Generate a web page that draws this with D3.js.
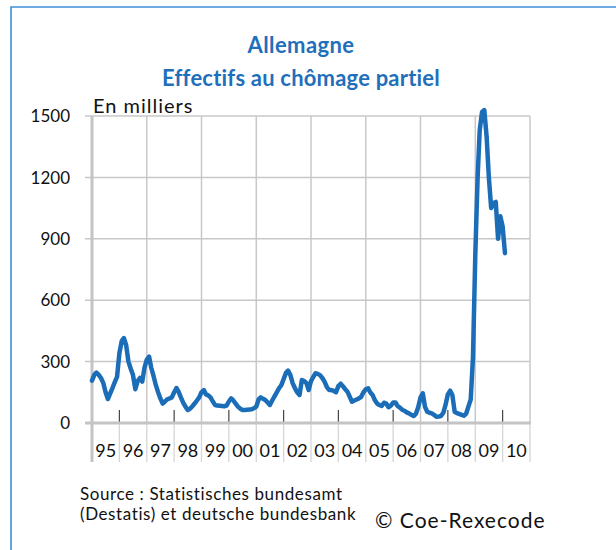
<!DOCTYPE html>
<html>
<head>
<meta charset="utf-8">
<script src="https://cdn.jsdelivr.net/npm/d3@7"></script>
<style>
  body { margin: 0; background: #fff; }
  svg { display: block; font-family: Lato, "Open Sans", sans-serif; }
</style>
</head>
<body>
<div id="chart"></div>
<script>
// effectifs au chomage partiel, en milliers, mensuel depuis janvier 1995
const startMonth = new Date(1995, 0, 1);
const chomage = [
  207, 235, 246, 235, 220, 195, 150, 117, 145, 171, 200, 225,   // 1995
  340, 400, 415, 380, 300, 265, 234, 165, 205, 220, 202, 270,   // 1996
  310, 324, 270, 230, 186, 150, 120, 95, 105, 116, 120, 125,    // 1997
  150, 171, 153, 125, 100, 80, 64, 70, 82, 95, 110, 125,        // 1998
  150, 161, 140, 135, 125, 105, 88, 85, 84, 83, 82, 85,         // 1999
  105, 120, 110, 95, 80, 70, 64, 64, 65, 66, 67, 72,            // 2000
  80, 115, 125, 118, 112, 100, 88, 110, 130, 150, 170, 185,     // 2001
  215, 245, 256, 234, 195, 170, 150, 137, 210, 205, 195, 161,   // 2002
  205, 225, 243, 240, 234, 220, 202, 175, 161, 161, 157, 150,   // 2003
  180, 192, 180, 165, 153, 128, 104, 110, 115, 120, 128, 150,   // 2004
  165, 170, 150, 137, 112, 95, 88, 83, 99, 95, 77, 85,          // 2005
  100, 100, 83, 75, 65, 60, 52, 47, 40, 34, 45, 77,             // 2006
  125, 145, 80, 55, 50, 47, 40, 31, 32, 34, 50, 88,             // 2007
  140, 158, 137, 55, 48, 44, 40, 36, 45, 80, 115, 320,          // 2008
  820, 1200, 1430, 1520, 1529, 1400, 1200, 1050, 1075, 1080, 900, 1010, // 2009
  960, 830                                                      // 2010
];
const yTicks = [0, 300, 600, 900, 1200, 1500];
const yearLabels = ["95", "96", "97", "98", "99", "00", "01", "02",
                    "03", "04", "05", "06", "07", "08", "09", "10"];

const blue = "#1c6db8";
const grid = "#c8c8c8";

const svg = d3.select("#chart").append("svg")
  .attr("width", 616).attr("height", 550);

// cadre bleu
svg.append("path")
  .attr("d", "M11,551 L11,7 L620,7")
  .attr("fill", "none").attr("stroke", "#3d8fd8").attr("stroke-width", 1.6);

const plotLeft = 92, plotRight = 530, plotTop = 116, plotBottom = 423;

const data = chomage.map((v, i) => ({ date: d3.timeMonth.offset(startMonth, i), value: v }));

const x = d3.scaleTime()
  .domain([new Date(1995, 0, 1), new Date(2011, 0, 1)])
  .range([plotLeft, plotRight]);
const y = d3.scaleLinear().domain([0, 1500]).range([plotBottom, plotTop]);

const years = d3.range(1995, 2012).map(yr => new Date(yr, 0, 1));

// grille horizontale + etiquettes
const gy = svg.append("g");
gy.selectAll("line").data(yTicks.filter(d => d > 0)).join("line")
  .attr("x1", plotLeft - 7).attr("x2", plotRight)
  .attr("y1", d => y(d)).attr("y2", d => y(d))
  .attr("stroke", grid).attr("stroke-width", 1.5);
gy.selectAll("text").data(yTicks).join("text")
  .attr("x", 70).attr("y", d => y(d)).attr("dy", "0.36em")
  .attr("text-anchor", "end").attr("font-size", 17).attr("fill", "#111")
  .text(d => d);

// grille verticale tous les deux ans
svg.append("g").selectAll("line")
  .data(years.filter((d, i) => i % 2 === 0 && i > 0)).join("line")
  .attr("x1", d => x(d)).attr("x2", d => x(d))
  .attr("y1", plotTop).attr("y2", plotBottom)
  .attr("stroke", grid).attr("stroke-width", 1.5);

// separateurs sous l'axe
svg.append("g").selectAll("line")
  .data(years).join("line")
  .attr("x1", d => x(d)).attr("x2", d => x(d))
  .attr("y1", plotBottom).attr("y2", 462)
  .attr("stroke", "#d6d6d6").attr("stroke-width", 1.3);

// petites graduations noires
svg.append("g").selectAll("line")
  .data(years.filter((d, i) => i % 2 === 1)).join("line")
  .attr("x1", d => x(d)).attr("x2", d => x(d))
  .attr("y1", plotBottom - 13).attr("y2", plotBottom)
  .attr("stroke", "#333").attr("stroke-width", 1.1);

// axes
svg.append("line")
  .attr("x1", plotLeft).attr("x2", plotLeft).attr("y1", plotTop).attr("y2", 462)
  .attr("stroke", "#c4c4c4").attr("stroke-width", 3);
svg.append("line")
  .attr("x1", plotLeft - 7).attr("x2", plotRight + 1).attr("y1", plotBottom).attr("y2", plotBottom)
  .attr("stroke", "#c4c4c4").attr("stroke-width", 3);

// etiquettes des annees
svg.append("g").selectAll("text").data(yearLabels).join("text")
  .attr("x", (d, i) => (x(years[i]) + x(years[i + 1])) / 2)
  .attr("y", 457)
  .attr("text-anchor", "middle").attr("font-size", 18).attr("fill", "#111")
  .text(d => d);

// courbe
const line = d3.line().x(d => x(d.date)).y(d => y(d.value));
svg.append("path").datum(data)
  .attr("d", line)
  .attr("fill", "none").attr("stroke", blue)
  .attr("stroke-width", 4.5).attr("stroke-linejoin", "round").attr("stroke-linecap", "round");

// titres
svg.append("text").attr("x", 301).attr("y", 53).attr("text-anchor", "middle")
  .attr("font-size", 22).attr("font-weight", "bold").attr("fill", "#1f6fbb")
  .attr("letter-spacing", 0.4)
  .text("Allemagne");
svg.append("text").attr("x", 301).attr("y", 86).attr("text-anchor", "middle")
  .attr("font-size", 22).attr("font-weight", "bold").attr("fill", "#1f6fbb")
  .attr("letter-spacing", 0.2)
  .text("Effectifs au chômage partiel");
svg.append("text").attr("x", 93).attr("y", 113)
  .attr("font-size", 20).attr("fill", "#111").attr("letter-spacing", 1)
  .text("En milliers");

// sources
svg.append("text").attr("x", 80).attr("y", 500).attr("font-size", 17).attr("fill", "#111")
  .attr("letter-spacing", 0.6)
  .text("Source : Statistisches bundesamt");
svg.append("text").attr("x", 80).attr("y", 520).attr("font-size", 17).attr("fill", "#111")
  .attr("letter-spacing", 0.6)
  .text("(Destatis) et deutsche bundesbank");
svg.append("text").attr("x", 375).attr("y", 528).attr("font-size", 21).attr("fill", "#111")
  .attr("letter-spacing", 1)
  .text("© Coe-Rexecode");
</script>
</body>
</html>
